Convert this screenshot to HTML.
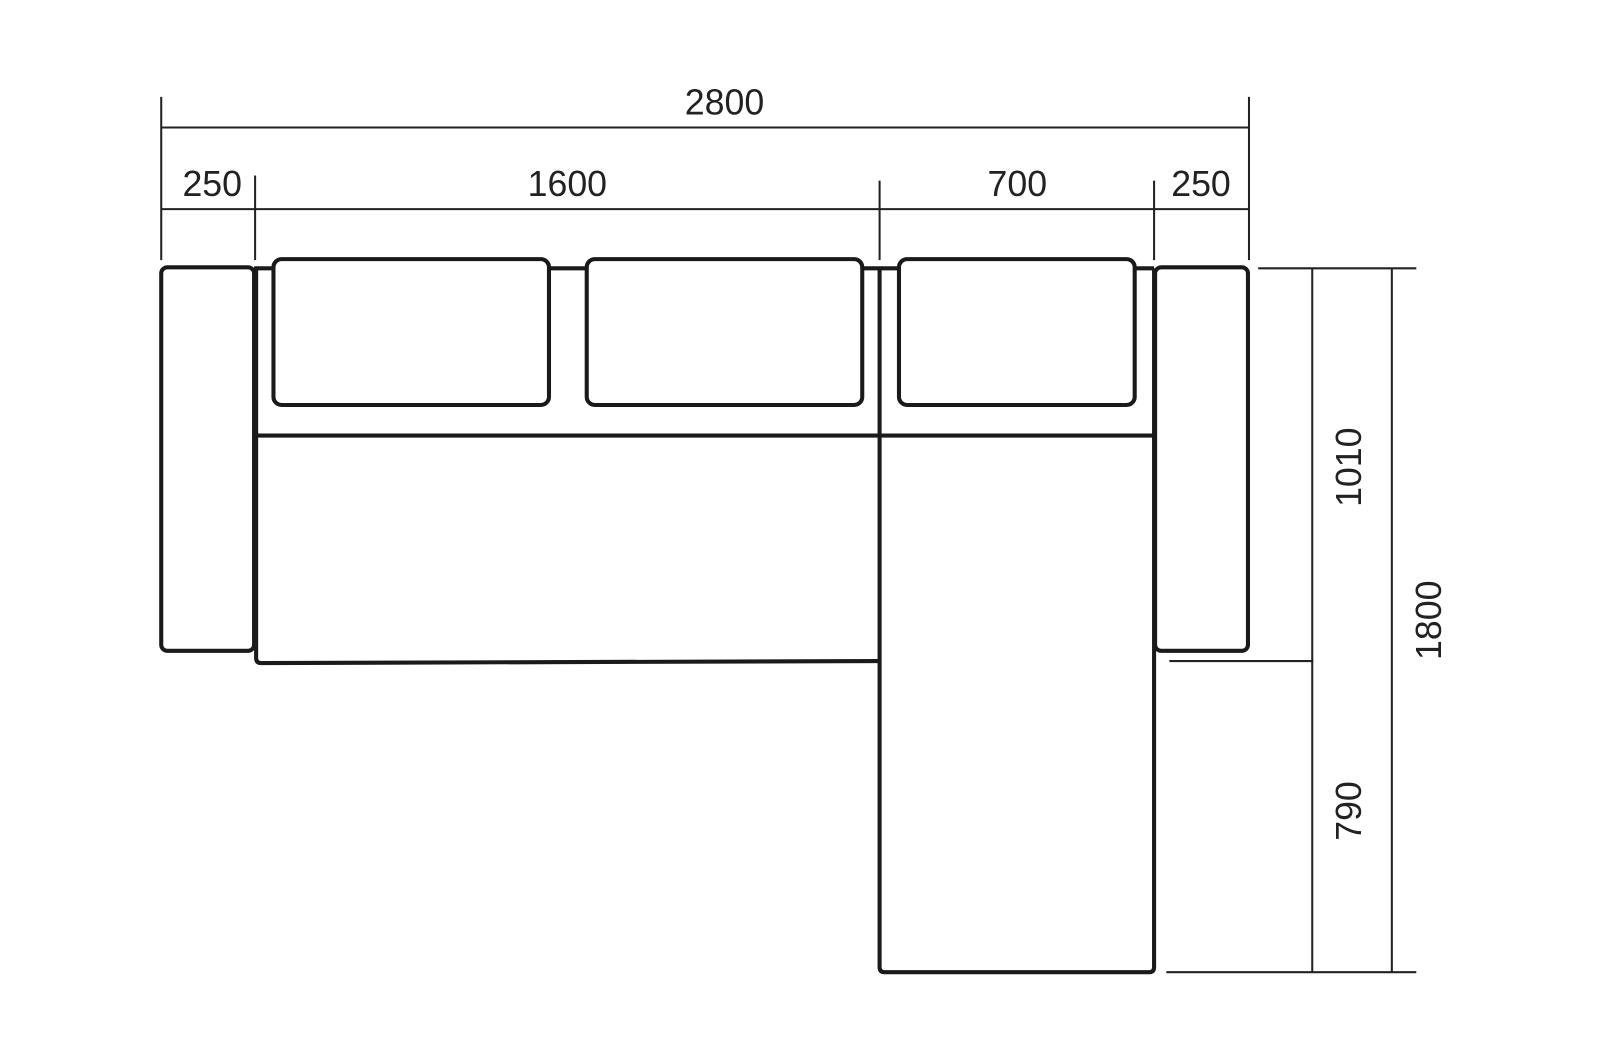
<!DOCTYPE html>
<html><head><meta charset="utf-8"><style>
html,body{margin:0;padding:0;background:#fff;}
svg{display:block}
text{font-family:"Liberation Sans","DejaVu Sans",sans-serif;font-size:35px;fill:#222;text-anchor:middle}
</style></head><body>
<svg width="1600" height="1064" viewBox="0 0 1568 1043" preserveAspectRatio="none" xmlns="http://www.w3.org/2000/svg">
<rect width="1568" height="1043" fill="#fff"/>
<g stroke="#222" stroke-width="2" fill="none">
<line x1="158" y1="125" x2="1224" y2="125"/>
<line x1="158" y1="95" x2="158" y2="255"/>
<line x1="1224" y1="95" x2="1224" y2="255"/>
<line x1="158" y1="205" x2="1224" y2="205"/>
<line x1="250" y1="172" x2="250" y2="255"/>
<line x1="862" y1="177" x2="862" y2="255"/>
<line x1="1131" y1="177" x2="1131" y2="255"/>
<line x1="1233" y1="263" x2="1388" y2="263"/>
<line x1="1146" y1="648" x2="1287" y2="648"/>
<line x1="1143" y1="953" x2="1388" y2="953"/>
<line x1="1286" y1="263" x2="1286" y2="953"/>
<line x1="1364" y1="263" x2="1364" y2="953"/>
</g>
<g stroke="#1a1a1a" stroke-width="4" fill="none" stroke-linejoin="round">
<line x1="249" y1="263" x2="1131" y2="263"/>
<rect x="158" y="262" width="91" height="376" rx="6"/>
<rect x="1132" y="262" width="91" height="376" rx="6"/>
<path d="M251 263 V645 Q251 650 256 650 L862 648"/>
<line x1="251" y1="427" x2="1131" y2="427"/>
<path d="M862 263 V948 Q862 953 867 953 H1126 Q1131 953 1131 948 V263"/>
<rect x="268" y="254" width="270" height="143" rx="8" fill="#fff"/>
<rect x="575" y="254" width="270" height="143" rx="8" fill="#fff"/>
<rect x="881" y="254" width="231" height="143" rx="8" fill="#fff"/>
</g>
<text x="710" y="112">2800</text>
<text x="208" y="192">250</text>
<text x="556" y="192">1600</text>
<text x="997" y="192">700</text>
<text x="1177" y="192">250</text>
<text transform="translate(1334,458) rotate(-90)">1010</text>
<text transform="translate(1412,608) rotate(-90)">1800</text>
<text transform="translate(1334,795) rotate(-90)">790</text>
</svg>
</body></html>
